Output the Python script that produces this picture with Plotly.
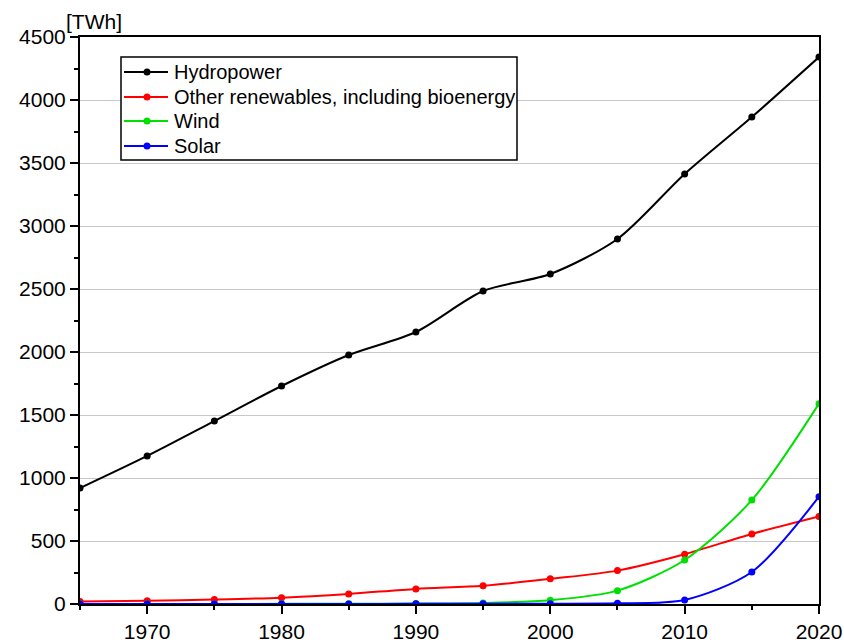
import plotly.graph_objects as go

years = [1965, 1970, 1975, 1980, 1985, 1990, 1995, 2000, 2005, 2010, 2015, 2020]
hydropower = [920, 1175, 1452, 1730, 1976, 2159, 2484, 2619, 2897, 3413, 3865, 4341]
other_renewables = [20, 25, 35, 50, 80, 120, 145, 200, 265, 395, 556, 695]
wind = [0, 0, 0, 1, 2, 4, 8, 30, 106, 349, 825, 1590]
solar = [0, 0, 0, 0, 0, 1, 1, 2, 5, 32, 254, 852]

series = [
    ("Hydropower", hydropower, "#000000"),
    ("Other renewables, including bioenergy", other_renewables, "#ff0000"),
    ("Wind", wind, "#00e000"),
    ("Solar", solar, "#0000ff"),
]

fig = go.Figure()
for name, vals, col in series:
    fig.add_trace(go.Scatter(
        x=years, y=vals, name=name, mode="lines+markers",
        line=dict(color=col, width=2, shape="spline", smoothing=0.8),
        marker=dict(color=col, size=7),
        cliponaxis=True, showlegend=False,
    ))

font = "Liberation Sans, Arial, sans-serif"

# page geometry (body margin is removed by the post script)
W, H = 844, 644
ML, MR, MT, MB = 80, 25, 37, 40
PLOT_L, PLOT_T = ML, MT
PLOT_W, PLOT_H = W - ML - MR, H - MT - MB

def px(x):
    return (x - PLOT_L) / PLOT_W

def py(y):
    return (PLOT_T + PLOT_H - y) / PLOT_H

# legend drawn as a framed box
shapes = [dict(type="rect", xref="paper", yref="paper",
               x0=px(121), x1=px(517), y0=py(160), y1=py(57),
               line=dict(color="#000", width=1.5), fillcolor="white", layer="above")]
annotations = []
row_y = [72, 97, 121, 146]
for (name, _, col), ry in zip(series, row_y):
    shapes.append(dict(type="line", xref="paper", yref="paper",
                       x0=px(124), x1=px(168), y0=py(ry), y1=py(ry),
                       line=dict(color=col, width=2), layer="above"))
    shapes.append(dict(type="circle", xref="paper", yref="paper",
                       x0=px(143.5), x1=px(150.5), y0=py(ry + 3.5), y1=py(ry - 3.5),
                       line=dict(color=col, width=0), fillcolor=col, layer="above"))
    annotations.append(dict(text=name, xref="paper", yref="paper",
                            x=px(172), y=py(ry), xanchor="left", yanchor="middle",
                            showarrow=False, font=dict(size=20, family=font, color="#000")))

annotations.append(dict(
    text="[TWh]", xref="paper", yref="paper", x=px(64), y=1.0,
    xanchor="left", yanchor="bottom", showarrow=False, yshift=2,
    font=dict(size=21, family=font),
))

fig.update_layout(
    width=W, height=H,
    margin=dict(l=ML, r=MR, t=MT, b=MB),
    paper_bgcolor="white", plot_bgcolor="white",
    font=dict(family=font, size=21, color="#000"),
    showlegend=False,
    xaxis=dict(
        range=[1965, 2020], tick0=1970, dtick=10, automargin=False,
        showline=True, linecolor="#000", linewidth=2, mirror=True,
        ticks="outside", ticklen=8, tickwidth=1.5, tickcolor="#000",
        tickfont=dict(size=21),
        minor=dict(ticks="outside", ticklen=4, tickwidth=1.5, tickcolor="#000", dtick=5, tick0=1965),
        showgrid=False, zeroline=False,
    ),
    yaxis=dict(
        range=[0, 4500], tick0=0, dtick=500, automargin=False,
        showline=True, linecolor="#000", linewidth=2, mirror=True,
        ticks="outside", ticklen=8, tickwidth=1.5, tickcolor="#000",
        tickfont=dict(size=21),
        minor=dict(ticks="outside", ticklen=4, tickwidth=1.5, tickcolor="#000", dtick=250, showgrid=False),
        showgrid=True, gridcolor="#c8c8c8", gridwidth=1, zeroline=False,
    ),
    shapes=shapes,
    annotations=annotations,
)

fig.write_html(
    "out.html",
    config={"displayModeBar": False},
    post_script="document.body.style.margin='0';document.body.style.overflow='hidden';",
)
